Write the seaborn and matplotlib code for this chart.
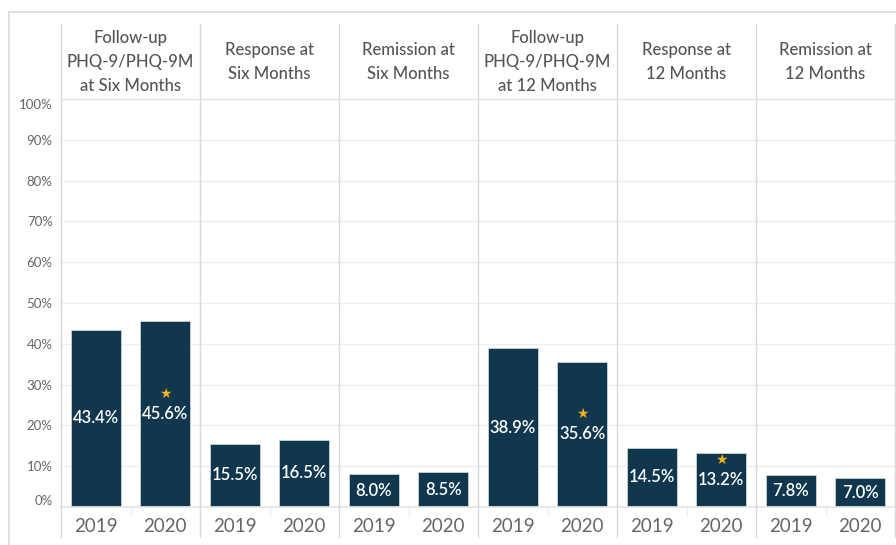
import numpy as np
import pandas as pd
import matplotlib
matplotlib.use("Agg")
import matplotlib.pyplot as plt
from matplotlib.lines import Line2D
import seaborn as sns

# ---- data ----
measures = [
    "Follow-up\nPHQ-9/PHQ-9M\nat Six Months",
    "Response at\nSix Months",
    "Remission at\nSix Months",
    "Follow-up\nPHQ-9/PHQ-9M\nat 12 Months",
    "Response at\n12 Months",
    "Remission at\n12 Months",
]
years = ["2019", "2020"]
values_2019 = [43.4, 15.5, 8.0, 38.9, 14.5, 7.8]
values_2020 = [45.6, 16.5, 8.5, 35.6, 13.2, 7.0]
starred_2020 = [True, False, False, True, True, False]
y_ticks = [0, 10, 20, 30, 40, 50, 60, 70, 80, 90, 100]

rows = []
for i, m in enumerate(measures):
    rows.append({"measure": m, "year": "2019", "value": values_2019[i], "star": False})
    rows.append({"measure": m, "year": "2020", "value": values_2020[i], "star": starred_2020[i]})
df = pd.DataFrame(rows)

sns.set_theme(style="white")
plt.rcParams["font.family"] = ["Lato", "DejaVu Sans"]

W, H = 896, 545
fig = plt.figure(figsize=(W / 100, H / 100), dpi=100)

BAR = "#10374d"
GRID = "#efefef"
DIV = "#d8d8d8"
TXT = "#666666"
STAR = "#f2b01e"

left_px, right_px = 61, 895
top_px, bot_px = 99, 507
n = len(measures)
pw = (right_px - left_px) / n

def fx(px):
    return px / W

def fy(py):
    return 1 - py / H

axes = []
for i, m in enumerate(measures):
    ax = fig.add_axes([fx(left_px + i * pw), fy(bot_px), fx(pw), (bot_px - top_px) / H])
    sub = df[df["measure"] == m]
    sns.barplot(data=sub, x="year", y="value", order=years, color=BAR, width=0.72,
                edgecolor="#c9d3d9", linewidth=0.6, ax=ax, saturation=1)
    ax.set_ylim(0, 100)
    ax.set_xlim(-0.5, 1.5)
    ax.set_yticks(y_ticks)
    ax.yaxis.grid(True, color=GRID, linewidth=1)
    ax.set_axisbelow(True)
    for s in ["top", "right", "left"]:
        ax.spines[s].set_visible(False)
    ax.spines["bottom"].set_color("#e6e6e6")
    ax.set_xlabel("")
    ax.set_ylabel("")
    ax.tick_params(axis="x", length=0, pad=8, labelsize=13.5, labelcolor=TXT)
    ax.tick_params(axis="y", length=0)
    if i == 0:
        ax.set_yticklabels([f"{t}%" for t in y_ticks], fontsize=9.5, color=TXT)
        labs = ax.get_yticklabels()
        labs[0].set_va("bottom")
        labs[-1].set_va("top")
        ax.tick_params(axis="y", pad=6)
    else:
        ax.set_yticklabels([])
    # value labels
    for j, yr in enumerate(years):
        row = sub[sub["year"] == yr].iloc[0]
        v = row["value"]
        ax.text(j, v / 2, f"{v:.1f}%", ha="center", va="center", color="white",
                fontsize=12, fontweight="semibold")
        if row["star"]:
            ax.annotate("\u2605", xy=(j, v / 2), xytext=(0, 14.5), textcoords="offset points",
                        ha="center", va="center", color=STAR, fontsize=10,
                        family="DejaVu Sans")
    # faint separator between years below axis
    ax.plot([0.5, 0.5], [0, -2.2], color="#eeeeee", lw=1, clip_on=False)
    # header
    fig.text(fx(left_px + (i + 0.5) * pw), fy(62), m, ha="center", va="center",
             fontsize=12, color="#555555", linespacing=1.62, fontweight="medium")
    axes.append(ax)

# panel dividers
for i in range(n + 1):
    x = fx(left_px + i * pw)
    fig.add_artist(Line2D([x, x], [fy(24), fy(537)], color=DIV, lw=1))
# header bottom line
fig.add_artist(Line2D([fx(left_px), fx(right_px)], [fy(top_px), fy(top_px)], color="#e3e3e3", lw=1))
# outer frame
fig.add_artist(Line2D([fx(8.5), fx(8.5)], [fy(12), 0], color="#dcdcdc", lw=1.2))
fig.add_artist(Line2D([fx(8.5), 1], [fy(12), fy(12)], color="#dcdcdc", lw=1.2))

fig.savefig("out.png", dpi=100)
